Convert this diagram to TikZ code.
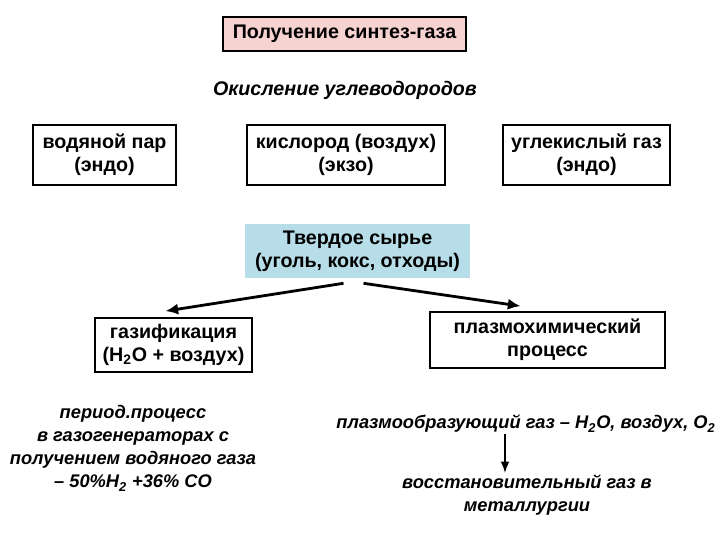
\documentclass[tikz,border=0pt]{standalone}
\usepackage{fontspec}
\setmainfont{Liberation Sans}
\usepackage{xcolor}
\usepackage{tikz}
\usetikzlibrary{arrows.meta,positioning,calc}
\definecolor{ink}{HTML}{000000}
\definecolor{pinkbg}{HTML}{F6D2D0}
\definecolor{aquabg}{HTML}{B7DDE8}
\tikzset{
  >=Latex,
  every node/.style={font=\bfseries\fontsize{14}{16.5}\selectfont,text=ink},
  comp/.style={draw=ink,line width=1.3pt,fill=white,align=center,inner sep=3pt},
  titlebox/.style={comp,fill=pinkbg},
  raw/.style={align=center,fill=aquabg,inner sep=3pt},
  note/.style={align=center,inner sep=1pt,font=\bfseries\itshape\fontsize{13}{16.5}\selectfont},
  arrow/.style={->,line width=2pt,draw=ink,>={Latex[length=9pt,width=8pt]}},
  thinarr/.style={->,line width=1pt,draw=ink,>={Latex[length=8pt,width=6pt]}}
}
\begin{document}
\begin{tikzpicture}[x=0.025cm,y=0.025cm]
  \useasboundingbox (0,0) rectangle (720,-540);
  \node[titlebox,minimum width=6.075cm,minimum height=0.85cm] (title) at (344.5,-34) {Получение синтез-газа};
  \node[note,font=\bfseries\itshape\fontsize{14}{16.5}\selectfont] (oxid) at (345,-90) {Окисление углеводородов};

  \node[comp,minimum width=3.575cm,minimum height=1.5cm] (steam) at (104.5,-155) {водяной пар\\(эндо)};
  \node[comp,minimum width=4.95cm,minimum height=1.5cm] (oxygen) at (346,-155) {кислород (воздух)\\(экзо)};
  \node[comp,minimum width=4.175cm,minimum height=1.5cm] (carbon) at (586.5,-155) {углекислый газ\\(эндо)};

  \node[raw,minimum width=5.625cm,minimum height=1.35cm] (solid) at (357.5,-251) {Твердое сырье\\(уголь, кокс, отходы)};

  \node[comp,minimum width=3.925cm,minimum height=1.35cm] (gasif) at (173.5,-345) {газификация\\(H\textsubscript{2}O + воздух)};
  \node[comp,minimum width=5.875cm,minimum height=1.4cm] (plasma) at (547.5,-340) {плазмохимический\\процесс};

  \node[note] (period) at (133,-448) {период.процесс\\в газогенераторах с\\получением водяного газа\\– 50\%H\textsubscript{2} +36\% CO};
  \node[note] (plgas) at (526,-424) {плазмообразующий газ – H\textsubscript{2}O, воздух, O\textsubscript{2}};
  \node[note] (redgas) at (527,-495) {восстановительный газ в\\металлургии};

  \draw[arrow] ([xshift=-0.35cm,yshift=-0.125cm]solid.south)--([xshift=-0.2cm,yshift=0.15cm]gasif.north);
  \draw[arrow] ([xshift=0.15cm,yshift=-0.125cm]solid.south)--([xshift=-0.675cm,yshift=0.125cm]plasma.north);
  \draw[thinarr] ([xshift=-0.525cm]plgas.south)--([xshift=-0.525cm]plgas.south |- redgas.north);
\end{tikzpicture}
\end{document}
